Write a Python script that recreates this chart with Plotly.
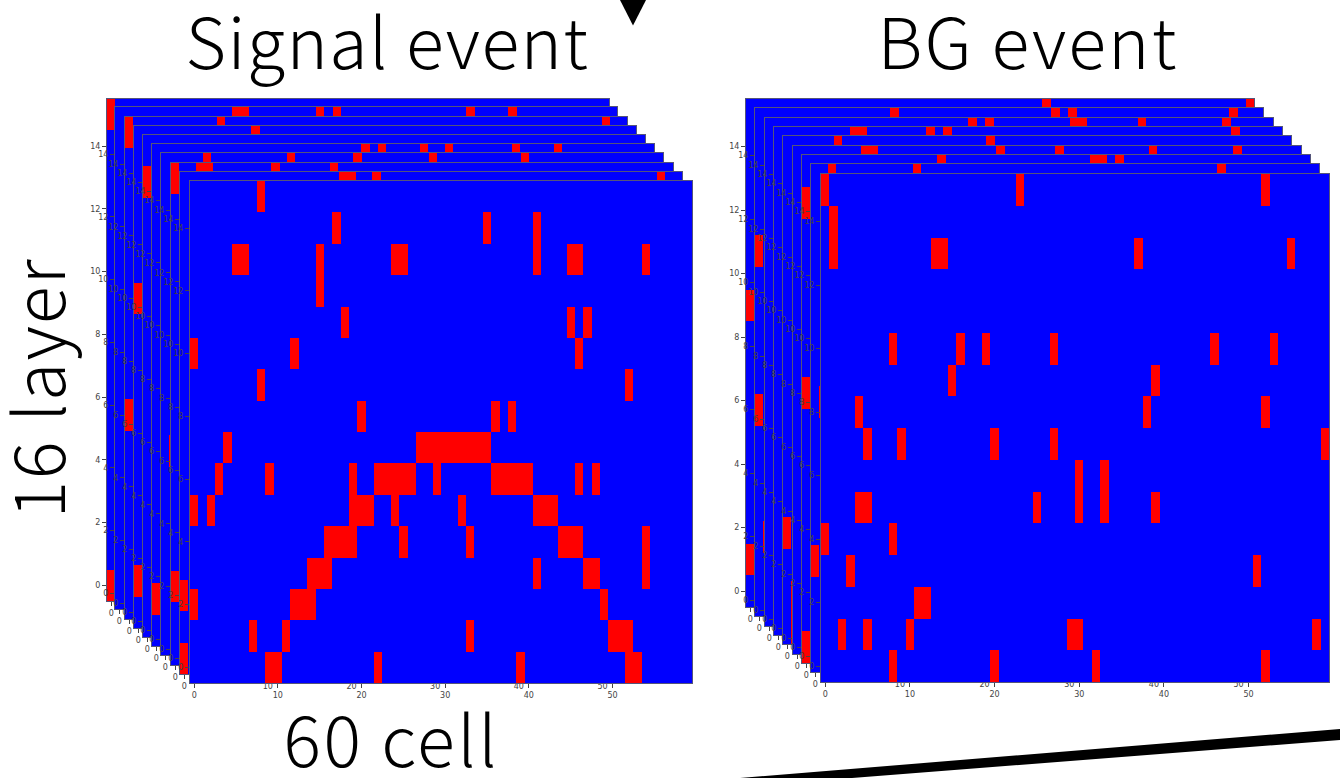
import plotly.graph_objects as go

W, H = 1340, 778
N_ROWS, N_COLS = 16, 60

# Red (hit) cells of each frame, back to front: {layer: [cells]}
signal_frames = [
    {15: [0], 2: [1], 0: [0]},
    {15: [14, 15, 24, 26, 42, 47]},
    {15: [0, 11, 57], 6: [0]},
    {15: [14], 10: [0], 2: [1], 1: [0]},
    {14: [0]},
    {15: [25, 27, 32, 35, 43, 48], 1: [0]},
    {15: [5, 15, 23, 32, 43], 6: [1]},
    {15: [0, 3, 4, 12, 19], 3: [1], 2: [0]},
    {15: [19, 20, 23, 57], 2: [0], 0: [0]},
    {15: [8],
     14: [17, 35, 41],
     13: [5, 6, 15, 24, 25, 41, 45, 46, 54],
     12: [15],
     11: [18, 45, 47],
     10: [0, 12, 46],
     9: [8, 52],
     8: [20, 36, 38],
     7: [4, 27, 28, 29, 30, 31, 32, 33, 34, 35],
     6: [3, 9, 19, 22, 23, 24, 25, 26, 29, 36, 37, 38, 39, 40, 46, 48],
     5: [0, 2, 19, 20, 21, 24, 32, 41, 42, 43],
     4: [16, 17, 18, 19, 25, 33, 44, 45, 46, 54],
     3: [14, 15, 16, 41, 47, 48, 54],
     2: [0, 12, 13, 14, 49],
     1: [7, 11, 33, 50, 51, 52],
     0: [9, 10, 22, 39, 52, 53]},
]
bg_frames = [
    {15: [35, 59], 9: [0], 5: [1], 1: [0]},
    {15: [16, 35, 37, 56], 11: [0], 6: [0], 2: [1]},
    {15: [24, 26, 36, 37, 44, 54], 8: [1], 5: [1]},
    {15: [9, 10, 18, 20, 54]},
    {15: [6, 24], 3: [0], 1: [1], 0: [1]},
    {15: [8, 9, 24, 31, 42, 52], 8: [1]},
    {15: [16, 34, 35, 37], 14: [0], 8: [0], 0: [0]},
    {15: [2, 12, 48], 8: [1], 3: [0]},
    {15: [0, 23, 52],
     14: [1],
     13: [1, 13, 14, 37, 55],
     10: [8, 16, 19, 27, 46, 53],
     9: [15, 39],
     8: [4, 38, 52],
     7: [5, 9, 20, 27, 59],
     6: [30, 33],
     5: [4, 5, 25, 30, 33, 39],
     4: [0, 8],
     3: [3, 51],
     2: [11, 12],
     1: [2, 5, 10, 29, 30, 58],
     0: [8, 20, 32, 52]},
]

x_ticks = [0, 10, 20, 30, 40, 50]
y_ticks = [0, 2, 4, 6, 8, 10, 12, 14]

# Panel layout in page pixels: left edge, top edge, then a common size
signal_left = [107, 115, 125, 134, 143, 152, 161, 171, 180, 190]
signal_top = [99, 107, 117, 126, 135, 144, 153, 163, 172, 181]
signal_size = 502
bg_left = [746, 755, 765, 774, 783, 793, 802, 811, 821]
bg_top = [99, 108, 118, 127, 136, 146, 155, 164, 174]
bg_size = 508

BLUE, RED = "#0000ff", "#ff0000"
FRAME = "#55557a"
TICK = "#444444"

fig = go.Figure()
layout = {}
idx = 0


def add_frame(cells, left, top, size):
    global idx
    idx += 1
    z = [[0] * N_COLS for _ in range(N_ROWS)]
    for row, cols in cells.items():
        for c in cols:
            z[row][c] = 1
    sfx = "" if idx == 1 else str(idx)
    fig.add_trace(go.Heatmap(
        z=z, x=list(range(N_COLS)), y=list(range(N_ROWS)),
        colorscale=[[0, BLUE], [1, RED]], zmin=0, zmax=1,
        showscale=False, hoverinfo="skip", xaxis="x" + sfx, yaxis="y" + sfx,
    ))
    common = dict(showgrid=False, zeroline=False, showline=True, mirror=True,
                  linecolor=FRAME, linewidth=1, ticks="outside", ticklen=4,
                  tickwidth=1, tickcolor=TICK, fixedrange=True,
                  tickfont=dict(family="DejaVu Sans", size=8, color=TICK))
    layout["xaxis" + sfx] = dict(
        domain=[left / W, (left + size) / W], range=[-0.5, N_COLS - 0.5],
        anchor="y" + sfx, tickmode="array", tickvals=x_ticks, ticktext=[str(v) for v in x_ticks], **common)
    layout["yaxis" + sfx] = dict(
        domain=[1 - (top + size) / H, 1 - top / H], range=[-0.5, N_ROWS - 0.5],
        anchor="x" + sfx, tickmode="array", tickvals=y_ticks, ticktext=[str(v) for v in y_ticks], **common)


for cells, l, t in zip(signal_frames, signal_left, signal_top):
    add_frame(cells, l, t, signal_size)
for cells, l, t in zip(bg_frames, bg_left, bg_top):
    add_frame(cells, l, t, bg_size)

LABEL_FONT = dict(family="Noto Sans CJK JP", size=70, color="#000000", weight=300)


def label(text, x, y, angle=0):
    return dict(text=text, x=x / W, y=1 - y / H, xref="paper", yref="paper",
                showarrow=False, textangle=angle, font=LABEL_FONT,
                xanchor="center", yanchor="middle")


annotations = [
    label("Signal event", 387, 38),
    label("BG event", 1028, 38),
    label("60 cell", 391, 736),
    label("16 layer", 34, 388, -90),
]


def px_path(points):
    return "M " + " L ".join(f"{x / W:.5f},{1 - y / H:.5f}" for x, y in points) + " Z"


shapes = [
    dict(type="path", xref="paper", yref="paper", line_width=0, fillcolor="#000000",
         path=px_path([(620, 0), (646, 0), (633, 25.5)])),
    dict(type="path", xref="paper", yref="paper", line_width=0, fillcolor="#000000",
         path=px_path([(740, 778), (1340, 729), (1340, 740), (852, 778)])),
]

fig.update_layout(width=W, height=H, margin=dict(l=0, r=0, t=0, b=0),
                  paper_bgcolor="white", plot_bgcolor="white", showlegend=False,
                  annotations=annotations, shapes=shapes, **layout)
fig.write_html("out.html", config={"displayModeBar": False},
               post_script="document.body.style.margin='0';document.body.style.overflow='hidden';"
                           "document.querySelectorAll('.annotation-text').forEach(function(e){"
                           "e.style.letterSpacing=(17/e.textContent.length)+'px';});")
